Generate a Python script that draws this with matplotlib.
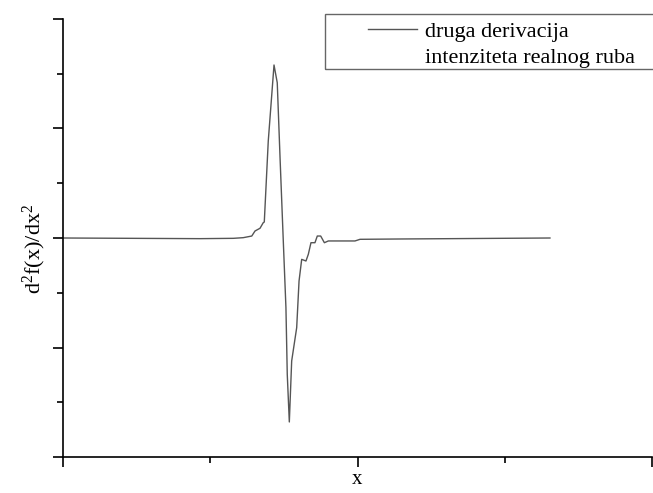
import matplotlib
matplotlib.use("Agg")
import matplotlib.pyplot as plt
from matplotlib.lines import Line2D
from matplotlib.patches import Rectangle
from matplotlib.ticker import MultipleLocator

x_vals = [0.0, 0.93, 1.157, 1.224, 1.282, 1.304, 1.338, 1.36, 1.367, 1.394,
          1.433, 1.455, 1.474, 1.496, 1.514, 1.523, 1.537, 1.553, 1.587,
          1.603, 1.621, 1.65, 1.666, 1.684, 1.711, 1.727, 1.75, 1.775,
          1.802, 1.983, 2.017, 2.289, 3.307]
y_vals = [0.0, -0.006, -0.003, 0.003, 0.018, 0.064, 0.089, 0.14, 0.146, 0.886,
          1.58, 1.418, 0.733, -0.027, -0.636, -1.245, -1.68, -1.123, -0.819,
          -0.393, -0.195, -0.21, -0.149, -0.043, -0.043, 0.018, 0.018, -0.043,
          -0.027, -0.027, -0.012, -0.009, 0.0]

legend_lines = ["druga derivacija", "intenziteta realnog ruba"]

plt.rcParams["font.family"] = ["Liberation Serif", "DejaVu Serif"]
plt.rcParams["mathtext.fontset"] = "custom"
plt.rcParams["mathtext.rm"] = "Liberation Serif"
plt.rcParams["mathtext.it"] = "Liberation Serif:italic"

W, H = 653, 493
fig = plt.figure(figsize=(W / 100, H / 100), dpi=100)
ax = fig.add_axes([63 / W, 1 - 457 / H, (652 - 63) / W, (457 - 19) / H])

ax.plot(x_vals, y_vals, color="#555555", linewidth=1.0)

ax.set_xlim(0, 4)
ax.set_ylim(-2, 2)
ax.xaxis.set_major_locator(MultipleLocator(2))
ax.xaxis.set_minor_locator(MultipleLocator(1))
ax.yaxis.set_major_locator(MultipleLocator(1))
ax.yaxis.set_minor_locator(MultipleLocator(0.5))
ax.tick_params(which="major", direction="out", length=7, width=1.2,
               labelbottom=False, labelleft=False)
ax.tick_params(which="minor", direction="out", length=4, width=1.2)

for side in ("top", "right"):
    ax.spines[side].set_visible(False)
for side in ("left", "bottom"):
    ax.spines[side].set_linewidth(1.2)

ax.set_xlabel("x", fontsize=15)
ax.set_ylabel(r"d$\mathregular{^2}$f(x)/dx$\mathregular{^2}$", fontsize=16)
ax.xaxis.set_label_coords(0.5, (457 - 470) / 438)
ax.yaxis.set_label_coords((48 - 63) / 589, (457 - 249) / 438)

# Legend box as in the original (runs off the right edge).
fig.patches.append(Rectangle((325 / W, 1 - 69 / H), (700 - 325) / W, 55 / H,
                             transform=fig.transFigure, fill=False,
                             edgecolor="#666666", linewidth=1.0))
fig.lines.append(Line2D([368 / W, 417 / W], [1 - 29 / H, 1 - 29 / H],
                        transform=fig.transFigure, color="#555555",
                        linewidth=1.0))
fig.text(425 / W, 1 - 37 / H, legend_lines[0], fontsize=16, va="baseline")
fig.text(425 / W, 1 - 63 / H, legend_lines[1], fontsize=16, va="baseline")

fig.savefig("out.png", dpi=100)
